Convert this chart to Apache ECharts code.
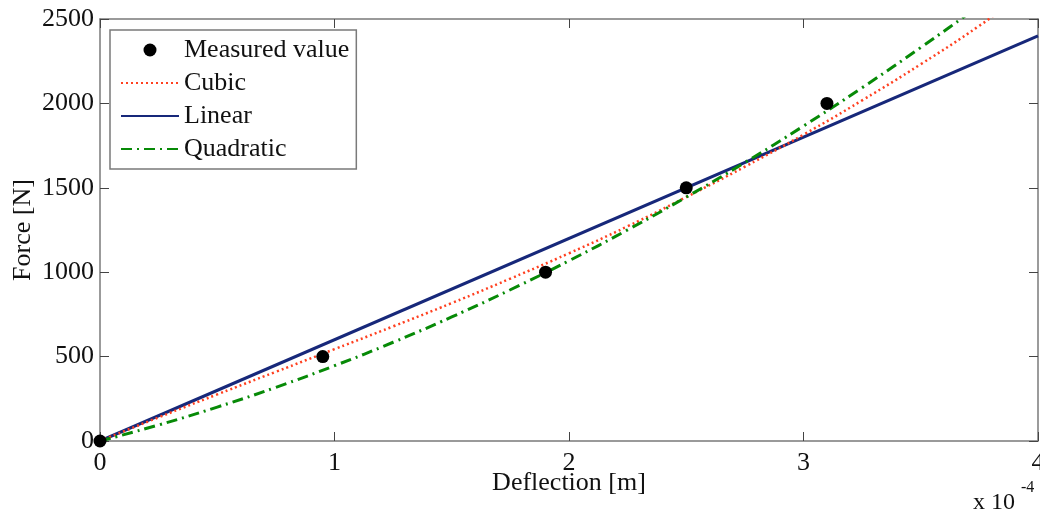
<!DOCTYPE html>
<html>
<head>
<meta charset="utf-8">
<script src="https://cdn.jsdelivr.net/npm/echarts@6/dist/echarts.min.js"></script>
<style>html,body{margin:0;padding:0;background:#fff;}#c{width:1040px;height:513px;}</style>
</head>
<body>
<div id="c"></div>
<script>
const measuredX = [0, 0.95, 1.9, 2.5, 3.1];
const measuredY = [0, 500, 1000, 1500, 2000];
const fitX = [0, 0.25, 0.5, 0.75, 1, 1.25, 1.5, 1.75, 2, 2.25, 2.5, 2.75, 3, 3.25, 3.5, 3.75, 4];
const cubicY = [0, 140, 276, 410, 544, 679, 817, 962, 1112, 1272, 1445, 1625, 1815, 2018, 2232, 2460, 2710];
const quadraticY = [0, 95, 201, 318, 446, 585, 735, 896, 1068, 1251, 1445, 1650, 1866, 2093, 2331, 2580, 2840];
const linearX = [0, 4];
const linearY = [0, 2400];
const xTicks = [0, 1, 2, 3, 4];
const yTicks = [0, 500, 1000, 1500, 2000, 2500];

const FONT = 'Liberation Serif';
const zip = (xs, ys) => xs.map((x, i) => [x, ys[i]]);
const chart = echarts.init(document.getElementById('c'), null, {renderer: 'canvas'});
const axisLineStyle = {color: '#7a7a7a', width: 1.5};
const tickStyle = {show: true, inside: true, length: 9, lineStyle: {color: '#444', width: 1}};
chart.setOption({
  animation: false,
  backgroundColor: '#fff',
  grid: {left: 100, right: 2, top: 19, bottom: 72, containLabel: false, outerBoundsMode: 'none'},
  legend: {
    orient: 'vertical', left: 110, top: 30,
    padding: [7, 7, 7, 10],
    backgroundColor: '#fff', borderColor: '#7a7a7a', borderWidth: 1.5, borderRadius: 0,
    itemWidth: 58, itemHeight: 13, itemGap: 7,
    textStyle: {fontFamily: FONT, fontSize: 26, color: '#111', lineHeight: 26},
    data: [
      {name: 'Measured value'},
      {name: 'Cubic', itemStyle: {opacity: 0}},
      {name: 'Linear', itemStyle: {opacity: 0}},
      {name: 'Quadratic', itemStyle: {opacity: 0}}
    ]
  },
  xAxis: [{
    type: 'value', min: xTicks[0], max: xTicks[xTicks.length - 1], interval: 1,
    name: 'Deflection [m]', nameLocation: 'middle', nameGap: 29, nameMoveOverlap: false,
    nameTextStyle: {fontFamily: FONT, fontSize: 26, color: '#111'},
    axisLine: {show: true, onZero: false, lineStyle: axisLineStyle},
    axisTick: tickStyle,
    axisLabel: {fontFamily: FONT, fontSize: 26, color: '#111', margin: 9},
    splitLine: {show: false}
  }, {
    type: 'value', position: 'top', min: xTicks[0], max: xTicks[xTicks.length - 1], interval: 1,
    axisLine: {show: true, onZero: false, lineStyle: axisLineStyle},
    axisTick: tickStyle, axisLabel: {show: false}, splitLine: {show: false}
  }],
  yAxis: [{
    type: 'value', min: yTicks[0], max: yTicks[yTicks.length - 1], interval: 500,
    name: 'Force [N]', nameLocation: 'middle', nameGap: 64, nameRotate: 90, nameMoveOverlap: false,
    nameTextStyle: {fontFamily: FONT, fontSize: 26, color: '#111'},
    axisLine: {show: true, onZero: false, lineStyle: axisLineStyle},
    axisTick: tickStyle,
    axisLabel: {fontFamily: FONT, fontSize: 26, color: '#111', margin: 6, formatter: v => String(v)},
    splitLine: {show: false}
  }, {
    type: 'value', position: 'right', min: yTicks[0], max: yTicks[yTicks.length - 1], interval: 500,
    axisLine: {show: true, onZero: false, lineStyle: axisLineStyle},
    axisTick: tickStyle, axisLabel: {show: false}, splitLine: {show: false}
  }],
  series: [{
    name: 'Cubic', type: 'line', smooth: true, symbol: 'none', z: 3,
    data: zip(fitX, cubicY),
    lineStyle: {color: '#ff4020', width: 2.5, type: [2, 3]},
    itemStyle: {color: '#ff4020'}
  }, {
    name: 'Linear', type: 'line', symbol: 'none', z: 2,
    data: zip(linearX, linearY),
    lineStyle: {color: '#17287a', width: 3},
    itemStyle: {color: '#17287a'}
  }, {
    name: 'Quadratic', type: 'line', smooth: true, symbol: 'none', z: 4,
    data: zip(fitX, quadraticY),
    lineStyle: {color: '#078a07', width: 3, type: [11, 5, 2, 5]},
    itemStyle: {color: '#078a07'}
  }, {
    name: 'Measured value', type: 'scatter', symbol: 'circle', symbolSize: 13, z: 5,
    data: zip(measuredX, measuredY),
    itemStyle: {color: '#000', opacity: 1}
  }],
  graphic: [{
    type: 'text', left: 973, top: 491,
    style: {text: 'x 10', font: '24px "Liberation Serif"', fill: '#111'}
  }, {
    type: 'text', left: 1021, top: 480,
    style: {text: '-4', font: '16px "Liberation Serif"', fill: '#111'}
  }]
});
</script>
</body>
</html>
